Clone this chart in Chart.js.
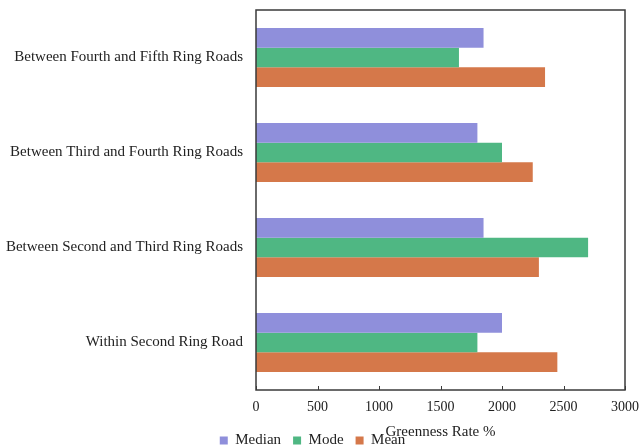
<!DOCTYPE html>
<html>
<head>
<meta charset="utf-8">
<script src="https://cdn.jsdelivr.net/npm/chart.js@4/dist/chart.umd.min.js"></script>
<style>
  html, body { margin: 0; padding: 0; background: #ffffff; }
  #wrap { width: 641px; height: 448px; }
</style>
</head>
<body>
<div id="wrap"><canvas id="c" width="641" height="448"></canvas></div>
<script>
// Ring-road zones, listed top to bottom
const zones = [
  'Between Fourth and Fifth Ring Roads',
  'Between Third and Fourth Ring Roads',
  'Between Second and Third Ring Roads',
  'Within Second Ring Road'
];
const medianValues = [1850, 1800, 1850, 2000];
const modeValues   = [1650, 2000, 2700, 1800];
const meanValues   = [2350, 2250, 2300, 2450];
const xTicks = [0, 500, 1000, 1500, 2000, 2500, 3000];

const serif = '"Liberation Serif", "Times New Roman", serif';

// Box around the plot area plus short inward tick marks on the value axis
const frame = {
  id: 'frame',
  afterDraw(chart) {
    const { ctx, chartArea: a } = chart;
    const x = chart.scales.x;
    ctx.save();
    ctx.strokeStyle = '#3a3a3a';
    ctx.lineWidth = 1.5;
    ctx.strokeRect(a.left, a.top, a.right - a.left, a.bottom - a.top);
    ctx.lineWidth = 1;
    ctx.beginPath();
    x.ticks.forEach(t => {
      const px = Math.round(x.getPixelForValue(t.value)) + 0.5;
      ctx.moveTo(px, a.bottom);
      ctx.lineTo(px, a.bottom - 4);
    });
    ctx.stroke();
    ctx.restore();
  }
};

new Chart(document.getElementById('c'), {
  type: 'bar',
  data: {
    labels: zones,
    datasets: [
      { label: 'Median', data: medianValues, backgroundColor: '#8f8fdb' },
      { label: 'Mode',   data: modeValues,   backgroundColor: '#4fb783' },
      { label: 'Mean',   data: meanValues,   backgroundColor: '#d5784a' }
    ]
  },
  options: {
    indexAxis: 'y',
    responsive: false,
    animation: false,
    devicePixelRatio: 1,
    layout: { padding: { top: 10, right: 16, left: 0, bottom: 0 } },
    datasets: { bar: { categoryPercentage: 0.62, barPercentage: 1.0, borderWidth: 0 } },
    scales: {
      x: {
        min: 0,
        max: 3000,
        afterBuildTicks(scale) { scale.ticks = xTicks.map(v => ({ value: v })); },
        afterFit(scale) {
          scale.height = 31;
          scale.paddingLeft = 0;
          scale.paddingRight = 0;
        },
        grid: { display: false, drawTicks: false },
        border: { display: false },
        ticks: {
          padding: 9,
          color: '#222',
          font: { family: serif, size: 14 },
          callback: v => String(v)
        },
        title: {
          display: true,
          text: 'Greenness Rate %',
          color: '#222',
          font: { family: serif, size: 15 },
          padding: { top: 0, bottom: -20 }
        }
      },
      y: {
        afterFit(scale) {
          scale.width = 256;
          scale.paddingTop = 0;
          scale.paddingBottom = 0;
        },
        grid: { display: false, drawTicks: false },
        border: { display: false },
        ticks: { padding: 13, color: '#222', font: { family: serif, size: 15 } }
      }
    },
    plugins: {
      legend: {
        position: 'bottom',
        maxHeight: 27,
        labels: {
          boxWidth: 8,
          boxHeight: 8,
          padding: 12,
          color: '#222',
          font: { family: serif, size: 15 }
        }
      },
      tooltip: { enabled: false }
    }
  },
  plugins: [frame]
});
</script>
</body>
</html>
